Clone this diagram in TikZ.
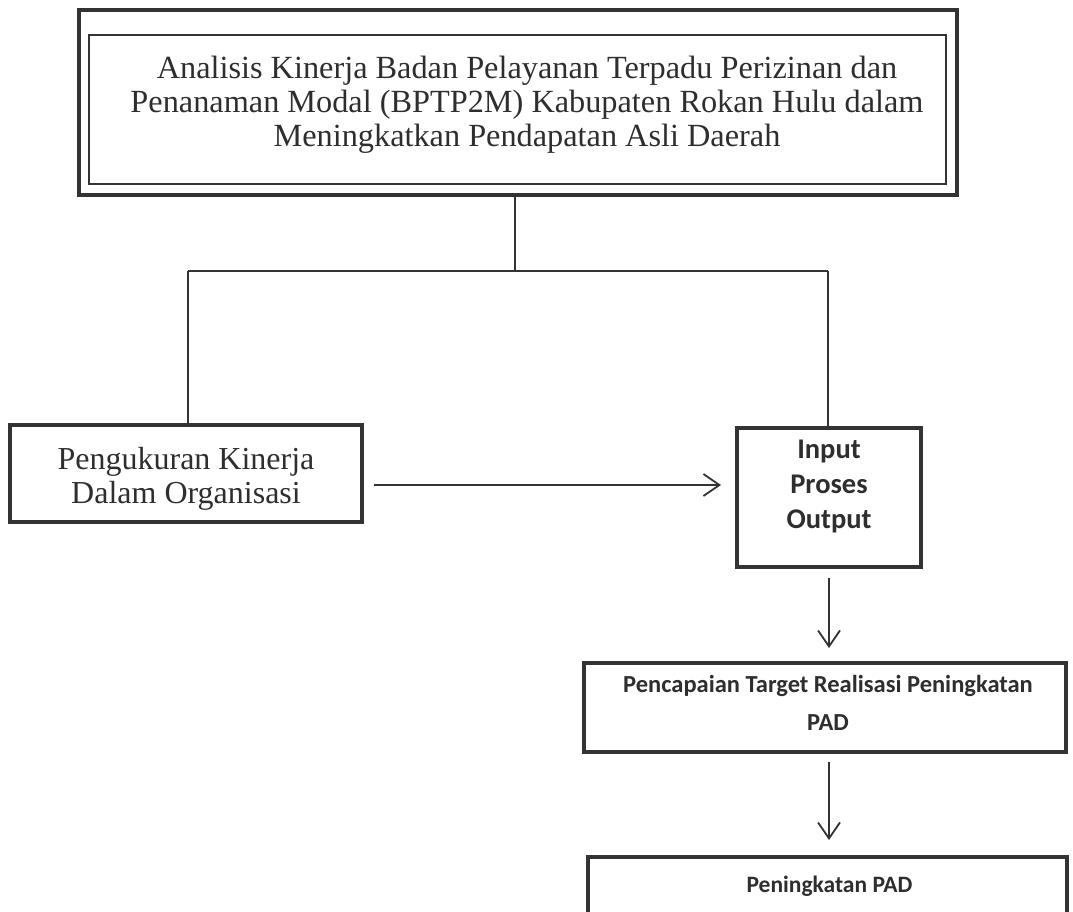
\documentclass[tikz,border=0pt]{standalone}
\usepackage{fontspec}
\setmainfont{Liberation Serif}
\newfontfamily\carl{Carlito}
\usetikzlibrary{arrows.meta}
\definecolor{ink}{HTML}{333333}
\definecolor{txt}{HTML}{2E2E2E}
\begin{document}
\begin{tikzpicture}[x=1pt,y=-1pt,
  boxA/.style={draw=ink, line width=4.5pt, rectangle, inner sep=0pt},
  boxB/.style={draw=ink, line width=1.3pt, rectangle, inner sep=0pt},
  serifbig/.style={inner sep=0pt, align=center, text=txt, font=\fontsize{32.3}{34}\selectfont},
  serifleft/.style={inner sep=0pt, align=center, text=txt, font=\fontsize{32}{34}\selectfont},
  sansbig/.style={inner sep=0pt, align=center, text=txt, font=\carl\bfseries\fontsize{28.5}{35}\selectfont},
  sanssmall/.style={inner sep=0pt, align=center, text=txt, font=\carl\bfseries\fontsize{24.5}{38}\selectfont},
  sansbot/.style={inner sep=0pt, align=center, text=txt, font=\carl\bfseries\fontsize{23.5}{38}\selectfont},
  conn/.style={draw=ink, line width=1.8pt},
  arr/.style={draw=ink, line width=1.8pt, -{Straight Barb[length=16pt,width=22pt,line width=1.8pt]}}]
\fill[white] (0,0) rectangle (1073,911);
\useasboundingbox (0,0) rectangle (1073,911);
\clip (0,0) rectangle (1073,911);

% top box
\node[boxA, minimum width=878pt, minimum height=185pt] (top) at (518,102.5) {};
\node[boxB, minimum width=857pt, minimum height=149pt] (topin) at (517.5,109.5) {};
\node[serifbig] (toptxt) at (527,105) {Analisis Kinerja Badan Pelayanan Terpadu Perizinan dan\\Penanaman Modal (BPTP2M) Kabupaten Rokan Hulu dalam\\Meningkatkan Pendapatan Asli Daerah};

% left box
\node[boxA, line width=4pt, minimum width=352pt, minimum height=97pt] (left) at (186,473.5) {};
\node[serifleft] (lefttxt) at (186,479) {Pengukuran Kinerja\\Dalam Organisasi};

% input box
\node[boxA, line width=4pt, minimum width=184pt, minimum height=139pt] (input) at (829,497.5) {};
\node[sansbig] (inputtxt) at (829,486) {Input\\Proses\\Output};

% PAD box
\node[boxA, line width=4pt, minimum width=482pt, minimum height=89pt] (pad) at (825,707.5) {};
\node[sanssmall] (padtxt) at (828,703) {Pencapaian Target Realisasi Peningkatan\\PAD};

% bottom box (cut by the page edge)
\node[boxA, line width=4pt, minimum width=479pt, minimum height=103pt] (bot) at (827.5,908.5) {};
\node[sansbot] (bottxt) at (829.5,886) {Peningkatan PAD};

% connectors
\coordinate (j) at (515,271);
\coordinate (jl) at (188,271);
\coordinate (jr) at (828,271);
\draw[conn] (j |- top.south) -- (j);
\draw[conn] (jl) -- (jr);
\draw[conn] (jl) -- (jl |- left.north);
\draw[conn] (jr) -- (jr |- input.north);

\path (left.east) ++(10,11.5) coordinate (a1);
\draw[arr, shorten >=14pt] (a1) -- (a1 -| input.west);

\draw[arr, shorten <=9pt, shorten >=13pt] (input.south) -- (input.south |- pad.north);
\draw[arr, shorten <=8pt, shorten >=15pt] (input.south |- pad.south) -- (input.south |- bot.north);
\end{tikzpicture}
\end{document}
